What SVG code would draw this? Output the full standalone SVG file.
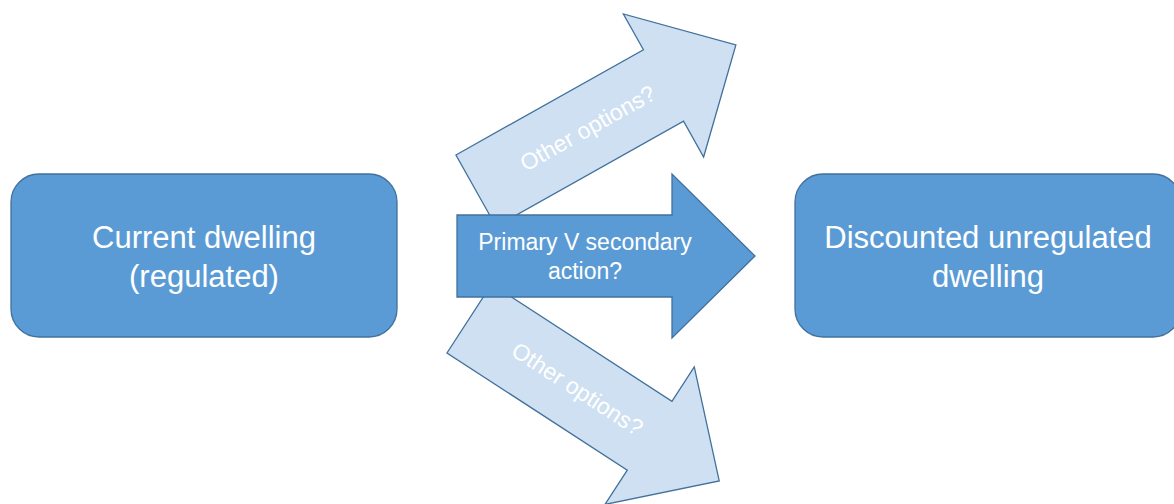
<svg xmlns="http://www.w3.org/2000/svg" xmlns:xlink="http://www.w3.org/1999/xlink" width="1174" height="504" viewBox="0 0 1174 504">
  <style>
    .box { fill: #5B9BD5; stroke: #41719C; stroke-width: 1.3; }
    .main { fill: #5B9BD5; stroke: #41719C; stroke-width: 1.3; }
    .alt { fill: #CEE0F2; stroke: #41719C; stroke-width: 1.3; }
    .label { font-family: "Liberation Sans", Arial, sans-serif; fill: #FFFFFF; text-anchor: middle; }
    .big { font-size: 31px; }
    .mid { font-size: 23px; }
    .small { font-size: 23px; }
  </style>
  <defs>
    <!-- block arrow, tail centre at origin, pointing along +x -->
    <path id="blockArrow" d="M0,-41 H215 V-82 L298,0 L215,82 V41 H0 Z"/>
  </defs>

  <rect width="1174" height="504" fill="#FFFFFF"/>

  <g id="connectors">
    <g id="arrow-upper" transform="translate(476,190.7) rotate(-29.3)">
      <use xlink:href="#blockArrow" class="alt"/>
      <text class="label small" x="128" y="8">Other options?</text>
    </g>
    <g id="arrow-lower" transform="translate(469.3,318.6) rotate(33)">
      <use xlink:href="#blockArrow" class="alt"/>
      <text class="label small" x="129" y="8">Other options?</text>
    </g>
    <g id="arrow-main" transform="translate(457,256)">
      <use xlink:href="#blockArrow" class="main"/>
      <text class="label mid" x="128" y="-6">Primary V secondary</text>
      <text class="label mid" x="128" y="23">action?</text>
    </g>
  </g>

  <g id="node-current">
    <rect class="box" x="11" y="174" width="386" height="163" rx="28" ry="28"/>
    <text class="label big" x="204" y="248">Current dwelling</text>
    <text class="label big" x="204" y="287">(regulated)</text>
  </g>

  <g id="node-discounted">
    <rect class="box" x="795" y="174" width="386" height="163" rx="28" ry="28"/>
    <text class="label big" x="988" y="248">Discounted unregulated</text>
    <text class="label big" x="988" y="287">dwelling</text>
  </g>
</svg>
